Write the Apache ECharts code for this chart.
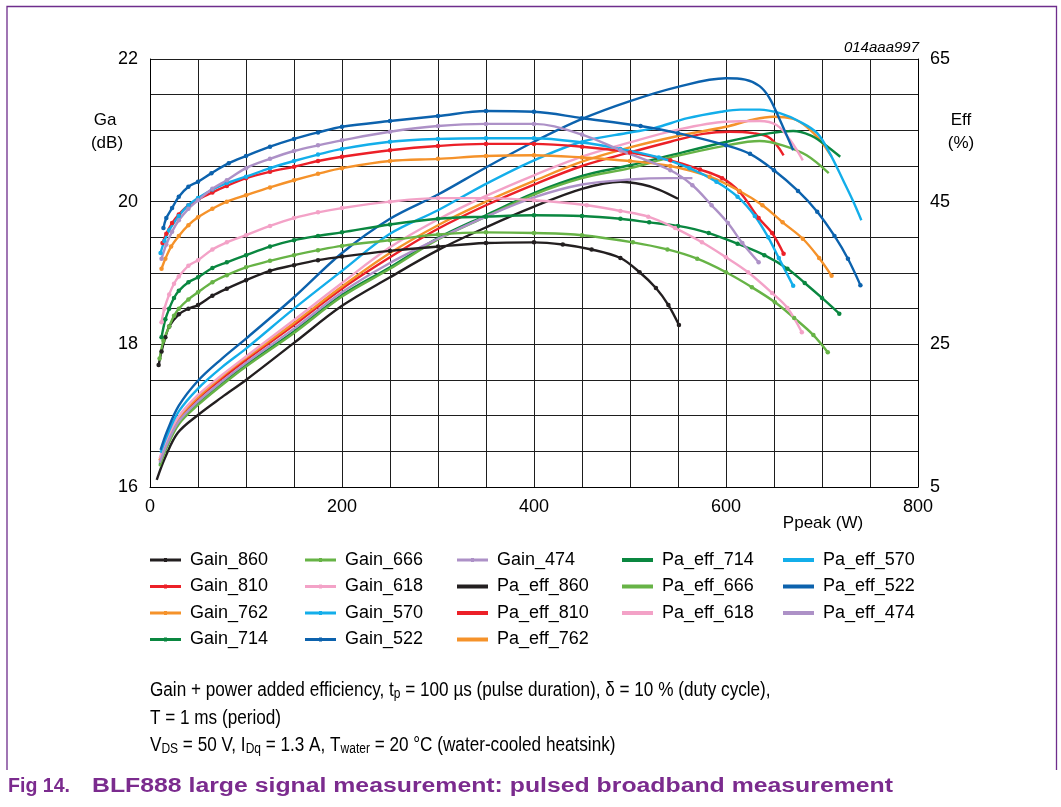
<!DOCTYPE html>
<html><head><meta charset="utf-8">
<script src="https://cdn.jsdelivr.net/npm/echarts@6/dist/echarts.min.js"></script>
<style>html,body{margin:0;padding:0;background:#fff}#c{width:1061px;height:807px}</style>
</head><body><div id="c"></div><script>
// ---------- data (Ppeak W, value) ----------
const gain_860 = [[9,17.71],[12,17.9],[16,18.1],[20,18.25],[30,18.42],[40,18.5],[50,18.55],[65,18.68],[80,18.78],[100,18.9],[125,19.03],[150,19.11],[175,19.18],[200,19.23],[250,19.31],[300,19.37],[350,19.42],[400,19.43],[430,19.4],[460,19.33],[490,19.21],[510,19.01],[527,18.79],[540,18.55],[551,18.27]];
const gain_810 = [[13,19.42],[17,19.55],[23,19.7],[30,19.82],[40,19.95],[50,20.03],[65,20.13],[80,20.22],[100,20.33],[125,20.42],[150,20.49],[175,20.57],[200,20.63],[250,20.72],[300,20.78],[350,20.81],[400,20.81],[450,20.77],[500,20.69],[542,20.58],[573,20.45],[596,20.33],[614,20.14],[634,19.77],[648,19.56],[660,19.27]];
const gain_762 = [[12,19.06],[16,19.2],[22,19.37],[30,19.52],[40,19.67],[50,19.78],[65,19.9],[80,20.0],[100,20.09],[125,20.2],[150,20.3],[175,20.39],[200,20.47],[250,20.57],[300,20.6],[350,20.64],[400,20.65],[450,20.62],[500,20.57],[542,20.5],[583,20.35],[614,20.15],[638,19.95],[659,19.71],[680,19.48],[697,19.21],[710,18.96]];
const gain_714 = [[12,18.1],[16,18.35],[20,18.5],[25,18.65],[30,18.75],[40,18.87],[50,18.94],[65,19.07],[80,19.15],[100,19.25],[125,19.37],[150,19.46],[175,19.52],[200,19.57],[250,19.68],[300,19.76],[350,19.79],[400,19.81],[450,19.8],[490,19.76],[520,19.71],[550,19.66],[582,19.56],[612,19.41],[640,19.25],[664,19.06],[682,18.86],[700,18.65],[718,18.43]];
const gain_666 = [[10,17.8],[14,18.05],[20,18.25],[25,18.4],[30,18.5],[40,18.63],[50,18.73],[65,18.87],[80,18.97],[100,19.08],[125,19.17],[150,19.25],[175,19.32],[200,19.38],[250,19.46],[300,19.54],[350,19.57],[400,19.56],[450,19.53],[503,19.43],[539,19.33],[570,19.2],[600,19.01],[627,18.8],[651,18.59],[671,18.37],[691,18.13],[706,17.89]];
const gain_618 = [[12,18.31],[15,18.5],[20,18.7],[25,18.85],[30,18.95],[40,19.1],[50,19.18],[65,19.33],[80,19.43],[100,19.53],[125,19.66],[150,19.77],[175,19.85],[200,19.91],[250,20.0],[300,20.05],[350,20.05],[400,20.02],[455,19.95],[490,19.87],[519,19.79],[547,19.63],[575,19.43],[600,19.22],[623,19.01],[648,18.72],[664,18.51],[679,18.17]];
const gain_570 = [[11,19.28],[15,19.45],[20,19.6],[30,19.8],[40,19.95],[50,20.05],[65,20.17],[80,20.26],[100,20.35],[125,20.47],[150,20.57],[175,20.66],[200,20.74],[250,20.84],[300,20.88],[350,20.89],[400,20.89],[450,20.83],[490,20.74],[530,20.62],[562,20.47],[590,20.28],[612,20.07],[630,19.8],[644,19.5],[655,19.21],[670,18.82]];
const gain_522 = [[14,19.63],[17,19.77],[23,19.91],[30,20.07],[40,20.21],[50,20.28],[64,20.4],[82,20.54],[100,20.64],[125,20.77],[150,20.88],[175,20.97],[200,21.05],[250,21.13],[300,21.2],[350,21.27],[400,21.26],[450,21.17],[511,21.06],[550,20.96],[600,20.79],[625,20.67],[650,20.44],[675,20.15],[695,19.86],[713,19.52],[727,19.2],[740,18.83]];
const gain_474 = [[12,19.2],[17,19.4],[23,19.58],[30,19.74],[40,19.9],[50,20.02],[65,20.18],[80,20.3],[100,20.47],[125,20.6],[150,20.71],[175,20.79],[200,20.86],[250,20.98],[300,21.06],[350,21.09],[400,21.09],[450,20.94],[490,20.72],[542,20.44],[565,20.23],[585,19.95],[602,19.7],[617,19.42],[634,19.15]];

const eff_860 = [[7,6.0],[16,9.2],[29,12.6],[50,15.1],[75,17.6],[100,20.0],[150,25.2],[200,30.4],[250,34.4],[300,38.2],[350,41.4],[400,44.3],[450,46.8],[490,47.8],[513,47.4],[530,46.7],[550,45.4]];
const eff_810 = [[10,8.7],[18,11.4],[30,14.5],[50,17.4],[75,20.2],[100,22.8],[150,27.7],[200,32.8],[250,37.2],[300,41.2],[350,44.5],[400,47.4],[450,50.0],[500,51.9],[542,53.4],[576,54.5],[604,54.8],[628,54.6],[646,53.9],[660,51.5]];
const eff_762 = [[10,8.8],[18,11.6],[30,14.7],[50,17.6],[75,20.5],[100,23.1],[150,28.0],[200,33.1],[250,37.8],[300,41.7],[350,45.0],[400,47.9],[450,50.6],[500,52.6],[550,54.2],[600,55.5],[628,56.5],[649,56.9],[670,56.6],[684,55.5],[698,53.6],[710,51.3]];
const eff_714 = [[10,8.1],[18,10.9],[30,14.0],[50,16.7],[75,19.5],[100,22.1],[150,26.8],[200,31.9],[250,35.8],[300,39.9],[350,43.1],[400,46.2],[450,48.6],[500,50.1],[542,51.5],[601,53.4],[646,54.6],[670,54.9],[688,54.3],[701,53.2],[719,51.3]];
const eff_666 = [[10,7.9],[18,10.7],[30,13.8],[50,16.5],[75,19.3],[100,21.9],[150,26.6],[200,31.7],[250,35.6],[300,39.7],[350,42.9],[400,46.0],[450,48.3],[500,49.7],[542,51.2],[601,52.9],[635,53.5],[659,52.9],[684,51.5],[707,49.0]];
const eff_618 = [[10,9.0],[18,11.8],[30,14.9],[50,17.9],[75,20.7],[100,23.3],[150,28.4],[200,33.6],[250,38.6],[300,42.5],[350,45.8],[400,48.7],[450,51.3],[500,53.3],[550,55.1],[600,56.2],[635,56.3],[653,55.7],[667,53.6],[680,50.8]];
const eff_570 = [[11,9.8],[18,12.3],[30,15.6],[50,18.8],[75,21.8],[100,24.4],[150,30.0],[200,35.3],[250,40.5],[300,43.8],[350,47.5],[400,50.8],[450,53.4],[500,54.7],[525,55.3],[560,56.7],[595,57.6],[615,57.9],[635,57.9],[656,57.4],[677,56.2],[695,54.6],[708,51.8],[722,48.0],[732,45.2],[741,42.4]];
const eff_522 = [[11,10.2],[18,12.9],[30,16.4],[50,19.9],[75,23.0],[100,25.8],[150,31.6],[200,37.8],[250,42.6],[300,46.0],[350,49.8],[400,53.4],[450,56.6],[500,59.1],[550,61.1],[600,62.3],[620,62.1],[635,61.2],[645,59.6],[655,56.8],[670,52.2]];
const eff_474 = [[10,8.4],[18,11.1],[30,14.2],[50,17.0],[75,19.8],[100,22.4],[150,27.2],[200,32.3],[250,36.4],[300,39.8],[350,42.9],[400,45.6],[450,47.4],[500,48.1],[540,48.3],[565,48.3]];

const freqs = ['860','810','762','714','666','618','570','522','474'];
const gainData = [gain_860,gain_810,gain_762,gain_714,gain_666,gain_618,gain_570,gain_522,gain_474];
const effData = [eff_860,eff_810,eff_762,eff_714,eff_666,eff_618,eff_570,eff_522,eff_474];
const xTickLabels = [0,200,400,600,800];
const gaTickLabels = [16,18,20,22];
const effTickLabels = [5,25,45,65];

// ---------- styles ----------
const colors = {'860':'#231f20','810':'#ec2028','762':'#f5922a','714':'#0a8740','666':'#67b346','618':'#f3a2c7','570':'#13aeea','522':'#0c62ad','474':'#ad91c7'};
const FONT = '"Liberation Sans", Arial, Helvetica, sans-serif';

const series = [];
freqs.forEach((f,i)=>{
  series.push({name:'Gain_'+f, type:'line', yAxisIndex:0, data:gainData[i], smooth:0.35,
    symbol:'circle', symbolSize:4.5, showSymbol:true, color:colors[f],
    lineStyle:{width:2.4, color:colors[f]}, itemStyle:{color:colors[f]}, z:3});
});
freqs.forEach((f,i)=>{
  series.push({name:'Pa_eff_'+f, type:'line', yAxisIndex:1, data:effData[i], smooth:0.35,
    symbol:'none', showSymbol:false, color:colors[f],
    lineStyle:{width:2.4, color:colors[f]}, itemStyle:{color:colors[f]}, z:2});
});

const legendCols = [
  ['Gain_860','Gain_810','Gain_762','Gain_714'],
  ['Gain_666','Gain_618','Gain_570','Gain_522'],
  ['Gain_474','Pa_eff_860','Pa_eff_810','Pa_eff_762'],
  ['Pa_eff_714','Pa_eff_666','Pa_eff_618'],
  ['Pa_eff_570','Pa_eff_522','Pa_eff_474']
];
const legendLeft = [150,305,457,622,783];
const gainIcon = 'path://M0,0.6H31V3.4H0Z M14,0H17V4H14Z';
const legendItem = n => n.indexOf('Pa_eff') === 0 ? {name:n, icon:'rect'} : {name:n, icon:gainIcon};

// text width helpers for caption fitting
const mctx = document.createElement('canvas').getContext('2d');
function tw(str, font){ mctx.font = font; return mctx.measureText(str).width; }
function richW(str, font, subFont){
  let w = 0;
  str.split(/(\{s\|[^}]*\})/).forEach(seg=>{
    const m = seg.match(/^\{s\|([^}]*)\}$/);
    if (m) w += tw(m[1], subFont); else if (seg) w += tw(seg, font);
  });
  return w;
}
const capFont = '20px ' + FONT, capSub = '14px ' + FONT;
const capLines = [
  {t:'Gain + power added efficiency, t{s|p} = 100 \u00b5s (pulse duration), \u03b4 = 10 % (duty cycle),', y:690},
  {t:'T = 1 ms (period)', y:718},
  {t:'V{s|DS} = 50 V, I{s|Dq} = 1.3 A, T{s|water} = 20 \u00b0C (water-cooled heatsink)', y:745}
];
const capScale = 131 / richW(capLines[1].t, capFont, capSub);
const graphics = [];
capLines.forEach(l=>{
  graphics.push({type:'text', x:150, y:l.y, scaleX:capScale, silent:true,
    style:{text:l.t, font:capFont, fill:'#000', verticalAlign:'middle', align:'left',
      rich:{s:{font:capSub, fill:'#000', padding:[9,0,0,0]}}}});
});
const figFont = 'bold 20px ' + FONT;
const figA = 'Fig 14.', figB = 'BLF888 large signal measurement: pulsed broadband measurement';
graphics.push({type:'text', x:8, y:786, scaleX: 62/tw(figA, figFont), silent:true,
  style:{text:figA, font:figFont, fill:'#7b2b8e', verticalAlign:'middle'}});
graphics.push({type:'text', x:92, y:786, scaleX: 801/tw(figB, figFont), silent:true,
  style:{text:figB, font:figFont, fill:'#7b2b8e', verticalAlign:'middle'}});
// frame
graphics.push({type:'polyline', silent:true, shape:{points:[[7,770],[7,6.5],[1056.5,6.5],[1056.5,770]]},
  style:{stroke:'#6e2d8c', lineWidth:1.3, fill:null}});
// axis titles
const axT = (txt,x,y,extra)=>({type:'text', x:x, y:y, silent:true,
  style:Object.assign({text:txt, font:'17px '+FONT, fill:'#000', align:'center', verticalAlign:'middle'}, extra||{})});
graphics.push(axT('Ga',105,120));
graphics.push(axT('(dB)',107,143));
graphics.push(axT('Eff',961,120));
graphics.push(axT('(%)',961,143));
graphics.push(axT('Ppeak (W)',823,523));
graphics.push(axT('014aaa997',919,48,{align:'right', font:'italic 15px '+FONT}));

const gridLine = {show:true, lineStyle:{color:'#1e1e1e', width:1}};
const option = {
  animation:false,
  backgroundColor:'#fff',
  grid:{left:150, top:59, width:768, height:428, containLabel:false},
  xAxis:{type:'value', min:0, max:800, interval:50,
    axisLine:{show:true, lineStyle:{color:'#000', width:1}}, axisTick:{show:false},
    splitLine:gridLine,
    axisLabel:{fontSize:18, fontFamily:FONT, color:'#000', margin:11,
      formatter:v=> xTickLabels.includes(v) ? String(v) : ''}},
  yAxis:[
    {type:'value', position:'left', min:16, max:22, interval:0.5,
      axisLine:{show:true, lineStyle:{color:'#000', width:1}}, axisTick:{show:false},
      splitLine:gridLine,
      axisLabel:{fontSize:18, fontFamily:FONT, color:'#000', margin:12,
        formatter:v=> gaTickLabels.includes(v) ? String(v) : ''}},
    {type:'value', position:'right', min:5, max:65, interval:5,
      axisLine:{show:true, lineStyle:{color:'#000', width:1}}, axisTick:{show:false},
      splitLine:{show:false},
      axisLabel:{fontSize:18, fontFamily:FONT, color:'#000', margin:12,
        formatter:v=> effTickLabels.includes(v) ? String(v) : ''}}
  ],
  legend: legendCols.map((names,i)=>({orient:'vertical', left:legendLeft[i], top:551,
    padding:0, itemWidth:31, itemHeight:4, itemGap:8.5, selectedMode:false, data:names.map(legendItem),
    textStyle:{fontSize:18, fontFamily:FONT, color:'#000', lineHeight:18, padding:[0,0,0,4]}})),
  series: series,
  graphic: graphics
};
const chart = echarts.init(document.getElementById('c'), null, {renderer:'canvas'});
chart.setOption(option);
</script></body></html>
